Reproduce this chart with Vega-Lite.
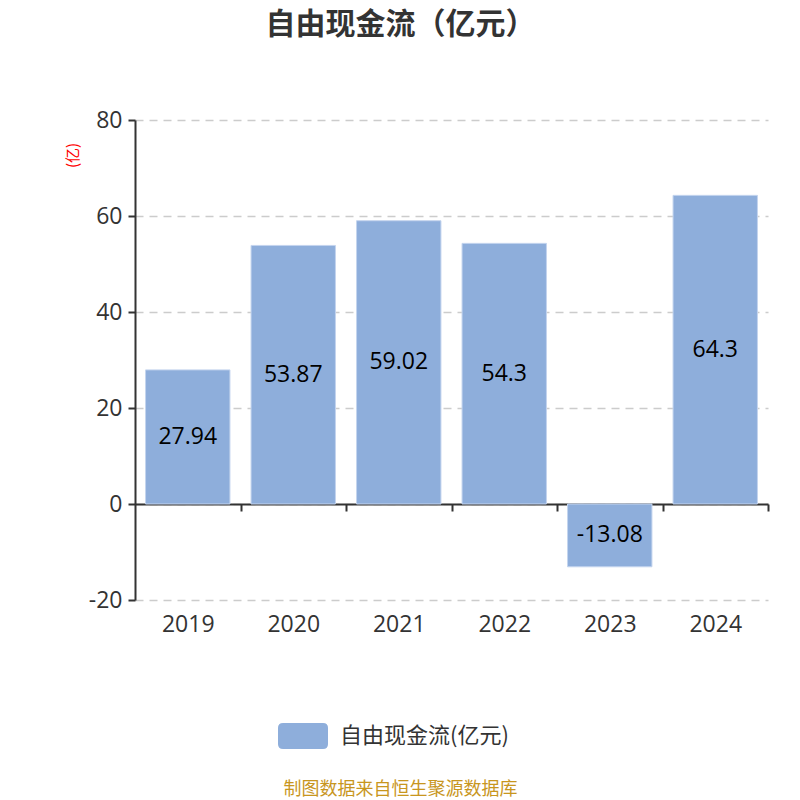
{
  "$schema": "https://vega.github.io/schema/vega-lite/v6.json",
  "width": 633,
  "height": 480,
  "autosize": "none",
  "padding": {"left": 135, "top": 120, "right": 32, "bottom": 200},
  "background": "#ffffff",
  "view": {"stroke": null},
  "config": {"font": "Noto Sans CJK SC"},
  "title": {
    "text": "自由现金流（亿元）",
    "fontSize": 30,
    "fontWeight": "bold",
    "color": "#333333",
    "anchor": "middle",
    "dx": -51,
    "offset": 69,
    "font": "Noto Sans CJK SC"
  },
  "data": {
    "values": [
      {"year": "2019", "value": 27.94, "series": "自由现金流(亿元)"},
      {"year": "2020", "value": 53.87, "series": "自由现金流(亿元)"},
      {"year": "2021", "value": 59.02, "series": "自由现金流(亿元)"},
      {"year": "2022", "value": 54.3, "series": "自由现金流(亿元)"},
      {"year": "2023", "value": -13.08, "series": "自由现金流(亿元)"},
      {"year": "2024", "value": 64.3, "series": "自由现金流(亿元)"}
    ]
  },
  "encoding": {
    "x": {
      "field": "year",
      "type": "ordinal",
      "scale": {"paddingInner": 0.2, "paddingOuter": 0.1},
      "axis": {
        "title": "制图数据来自恒生聚源数据库",
        "titleColor": "#c8961e",
        "titleFontSize": 18,
        "titleFontWeight": "normal",
        "titleX": 265,
        "titleY": 285,
        "titleAlign": "center",
        "titleBaseline": "middle",
        "offset": -96,
        "labelAngle": 0,
        "labelFont": "Open Sans",
        "labelFontSize": 23,
        "labelColor": "#333333",
        "labelPadding": 102,
        "labelBaseline": "top",
        "labelOffset": -52.75,
        "domainColor": "#333333",
        "domainWidth": 2,
        "tickColor": "#333333",
        "tickWidth": 2,
        "tickSize": 7,
        "tickOffset": 52.75,
        "grid": false
      }
    },
    "y": {
      "field": "value",
      "type": "quantitative",
      "scale": {"domain": [-20, 80], "nice": false, "zero": false},
      "axis": {
        "values": [-20, 0, 20, 40, 60, 80],
        "labelExpr": "datum.value + ''",
        "title": "(亿)",
        "titleColor": "#ff0000",
        "titleFontSize": 15,
        "titleFontWeight": "normal",
        "titleX": -63,
        "titleY": 35,
        "titleAngle": -90,
        "titleAlign": "center",
        "titleBaseline": "middle",
        "labelFont": "Open Sans",
        "labelFontSize": 23,
        "labelColor": "#333333",
        "labelPadding": 6,
        "domainColor": "#333333",
        "domainWidth": 2,
        "tickColor": "#333333",
        "tickWidth": 2,
        "tickSize": 7,
        "gridColor": "#cccccc",
        "gridDash": [8, 6],
        "gridWidth": 1.5
      }
    }
  },
  "layer": [
    {
      "mark": {"type": "bar", "stroke": "#c4d4ee", "strokeWidth": 1},
      "encoding": {
        "color": {
          "field": "series",
          "type": "nominal",
          "scale": {"range": ["#8eaedb"]},
          "legend": {
            "title": null,
            "orient": "none",
            "legendX": 143,
            "legendY": 591,
            "symbolType": "M -0.8 -0.52 L 0.8 -0.52 Q 1 -0.52 1 -0.32 L 1 0.32 Q 1 0.52 0.8 0.52 L -0.8 0.52 Q -1 0.52 -1 0.32 L -1 -0.32 Q -1 -0.52 -0.8 -0.52 Z",
            "symbolSize": 2500,
            "symbolStrokeWidth": 0,
            "symbolOpacity": 1,
            "labelFontSize": 22,
            "labelColor": "#333333",
            "labelOffset": 12,
            "labelLimit": 400
          }
        }
      }
    },
    {
      "transform": [{"calculate": "datum.value / 2", "as": "mid"}],
      "mark": {"type": "text", "fontSize": 23, "font": "Open Sans", "color": "#000000", "baseline": "middle"},
      "encoding": {
        "y": {"field": "mid", "type": "quantitative"},
        "text": {"field": "value", "type": "nominal"}
      }
    }
  ]
}
